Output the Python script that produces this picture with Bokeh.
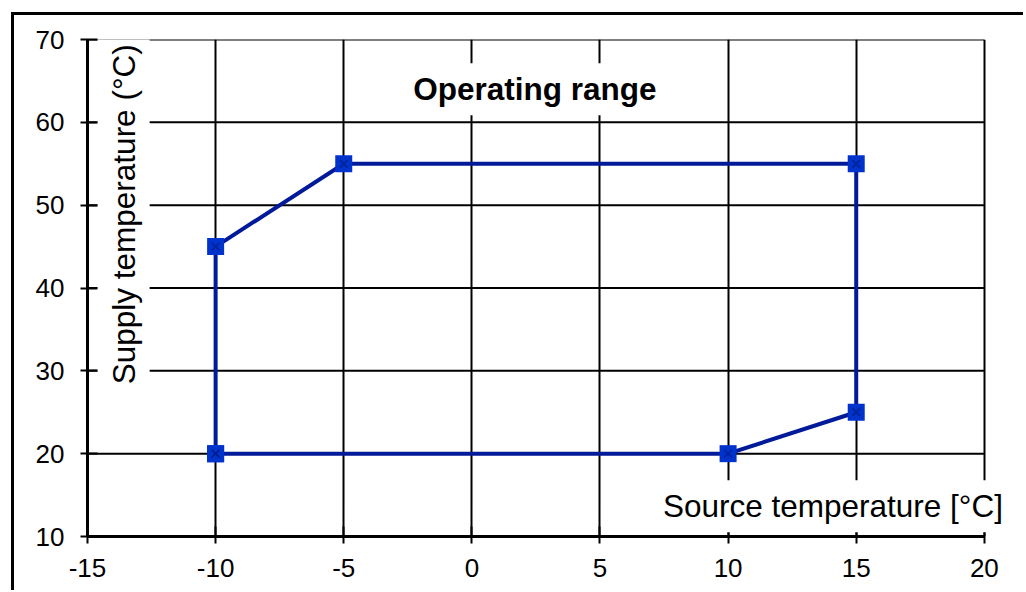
import math
from bokeh.plotting import figure
from bokeh.models import Range1d, FixedTicker, Label, ColumnDataSource
from bokeh.embed import file_html
from bokeh.resources import INLINE

# Data
source_temp = [-10, -10, -5, 15, 15, 10, -10]
supply_temp = [20, 45, 55, 55, 25, 20, 20]
x_ticks = [-15, -10, -5, 0, 5, 10, 15, 20]
y_ticks = [10, 20, 30, 40, 50, 60, 70]
title_text = "Operating range"
x_label = "Source temperature [°C]"
y_label = "Supply temperature (°C)"

FONT = "Liberation Sans"
X_MIN, X_MAX = x_ticks[0], x_ticks[-1]

p = figure(width=1012, height=578, output_backend="svg", toolbar_location=None,
           x_range=Range1d(X_MIN, 21.06), y_range=Range1d(y_ticks[0], y_ticks[-1]),
           min_border_left=73, min_border_right=15, min_border_top=24, min_border_bottom=57)
p.margin = (12, 0, 0, 11)
p.styles = {"border-top": "3px solid black", "border-left": "3px solid black"}
p.background_fill_color = "white"
p.border_fill_color = "white"
p.outline_line_color = None

for ax in (p.xaxis[0], p.yaxis[0]):
    ax.axis_line_color = "black"
    ax.axis_line_width = 3
    ax.major_tick_line_color = "black"
    ax.major_tick_line_width = 2
    ax.major_tick_in = 10
    ax.major_tick_out = 7
    ax.minor_tick_line_color = None
    ax.major_label_text_font = FONT
    ax.major_label_text_font_size = "26px"
    ax.major_label_text_color = "black"

p.xaxis.bounds = (X_MIN, X_MAX)
p.xaxis.ticker = FixedTicker(ticks=x_ticks)
p.yaxis.ticker = FixedTicker(ticks=y_ticks)
p.xaxis.major_label_overrides = {t: str(t) for t in x_ticks}
p.yaxis.major_label_overrides = {t: str(t) for t in y_ticks}
p.xaxis.major_label_standoff = 15
p.yaxis.major_label_standoff = 16

p.xgrid.ticker = FixedTicker(ticks=x_ticks)
p.xgrid.grid_line_color = "black"
p.xgrid.grid_line_width = 2
p.ygrid.grid_line_color = None
# horizontal grid lines limited to the x axis extent
p.segment(x0=[X_MIN] * len(y_ticks), x1=[X_MAX] * len(y_ticks), y0=y_ticks, y1=y_ticks,
          line_color="black", line_width=2, level="underlay")

src = ColumnDataSource(dict(x=source_temp, y=supply_temp))
p.line("x", "y", source=src, line_color="#001a99", line_width=4)
p.scatter("x", "y", source=src, marker="square", size=17, fill_color="#0033cc",
          line_color=None)
p.scatter("x", "y", source=src, marker="x", size=11, line_color="#001a80",
          line_width=1.5, line_alpha=0.7)

p.add_layout(Label(x=2.46, y=64.0, text=title_text, text_font=FONT,
                   text_font_size="31.5px", text_font_style="bold", text_color="black",
                   text_align="center", text_baseline="middle",
                   background_fill_color="white", padding=8))
p.add_layout(Label(x=-13.59, y=48.9, text=y_label, text_font=FONT,
                   text_font_size="31.5px", angle=math.pi / 2, text_color="black",
                   text_align="center", text_baseline="middle",
                   background_fill_color="white", padding=8))
p.add_layout(Label(x=14.09, y=13.65, text=x_label, text_font=FONT,
                   text_font_size="31.5px", text_color="black",
                   text_align="center", text_baseline="middle",
                   background_fill_color="white", padding=8))

open("out.html", "w").write(file_html(p, INLINE))
